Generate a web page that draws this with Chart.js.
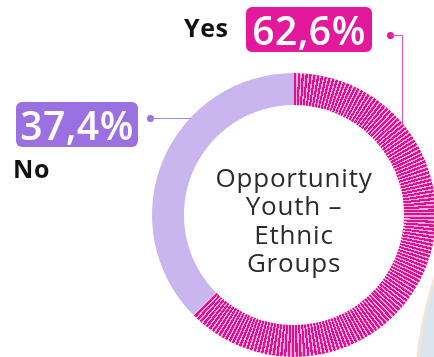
<!DOCTYPE html>
<html>
<head>
<meta charset="utf-8">
<script src="https://cdn.jsdelivr.net/npm/chart.js@4"></script>
<style>
  html, body { margin: 0; padding: 0; background: #fff; }
  body { width: 434px; height: 357px; overflow: hidden; position: relative; font-family: "Open Sans", sans-serif; }
  #deco { position: absolute; left: 414px; top: 0; width: 800px; height: 800px; border-radius: 50%;
          background: #dbe5f0; border-left: 3px solid #f6e4d6; }
  #wrap { position: absolute; left: 0; top: 0; width: 460px; height: 380px; }
  .tag { position: absolute; height: 45px; line-height: 45px; border-radius: 6px; color: #fff;
         font-weight: 600; font-size: 39px; text-align: center; letter-spacing: 0.5px; }
  .name { position: absolute; font-weight: 700; font-size: 25px; color: #111; letter-spacing: 0.6px; }
  .dot { position: absolute; width: 7px; height: 7px; border-radius: 50%; }
  .ln { position: absolute; }
</style>
</head>
<body>
<div id="deco"></div>
<div id="wrap"><canvas id="chart"></canvas></div>

<div class="name" style="left:184px; top:10px;" id="yesName"></div>
<div class="tag" style="left:246px; top:7px; width:126px; background:#e3189b;" id="yesTag"></div>
<div class="dot" style="left:387px; top:32px; background:#e3189b;"></div>
<div class="ln" style="left:390px; top:35px; width:13px; height:0; border-top:1.5px solid #ea4fb0;"></div>
<div class="ln" style="left:402px; top:35px; width:0; height:90px; border-left:1.5px solid #ea4fb0;"></div>

<div class="tag" style="left:16px; top:102px; width:122px; background:#9b70e0;" id="noTag"></div>
<div class="name" style="left:13px; top:151px;" id="noName"></div>
<div class="dot" style="left:147px; top:115px; background:#9b70e0;"></div>
<div class="ln" style="left:150px; top:118px; width:41px; height:0; border-top:1.5px solid #a784e4;"></div>

<script>
const categories = ['Yes', 'No'];
const shares = [62.6, 37.4];
const centerLines = ['Opportunity', 'Youth –', 'Ethnic', 'Groups'];

const fmt = v => v.toFixed(1).replace('.', ',') + '%';
document.getElementById('yesName').innerText = categories[0];
document.getElementById('noName').innerText = categories[1];
document.getElementById('yesTag').innerText = fmt(shares[0]);
document.getElementById('noTag').innerText = fmt(shares[1]);

// radial stripes for the "Yes" arc, made with a conic gradient around the chart centre
function stripes(chart) {
    const area = chart.chartArea;
    if (!area) return '#e3189b';
    const cx = (area.left + area.right) / 2;
    const cy = (area.top + area.bottom) / 2;
    const g = chart.ctx.createConicGradient(-Math.PI / 2, cx, cy);
    const n = 230;
    for (let i = 0; i < n; i++) {
        const a = i / n, b = (i + 0.6) / n, c = (i + 1) / n;
        g.addColorStop(a, '#dd128e');
        g.addColorStop(b, '#dd128e');
        g.addColorStop(b, '#f9acdc');
        g.addColorStop(c, '#f9acdc');
    }
    return g;
}

const centerText = {
    id: 'centerText',
    afterDatasetsDraw(chart) {
        const { ctx, chartArea } = chart;
        const cx = (chartArea.left + chartArea.right) / 2;
        ctx.save();
        ctx.font = '400 26px "Open Sans"';
        ctx.letterSpacing = '0.8px';
        ctx.fillStyle = '#2b2b2b';
        ctx.textAlign = 'center';
        ctx.textBaseline = 'alphabetic';
        const base = [187, 215, 244, 272];
        centerLines.forEach((t, i) => ctx.fillText(t, cx, base[i]));
        ctx.restore();
    }
};

new Chart(document.getElementById('chart'), {
    type: 'doughnut',
    data: {
        labels: categories,
        datasets: [{
            data: shares,
            backgroundColor: ctx => ctx.dataIndex === 0 ? stripes(ctx.chart) : '#c9b6ee',
            borderWidth: 0
        }]
    },
    options: {
        responsive: true,
        maintainAspectRatio: false,
        animation: false,
        cutout: '77.5%',
        layout: { padding: { left: 152, top: 73, right: 24, bottom: 23 } },
        plugins: {
            legend: { display: false },
            tooltip: { enabled: false }
        }
    },
    plugins: [centerText]
});
</script>
</body>
</html>
